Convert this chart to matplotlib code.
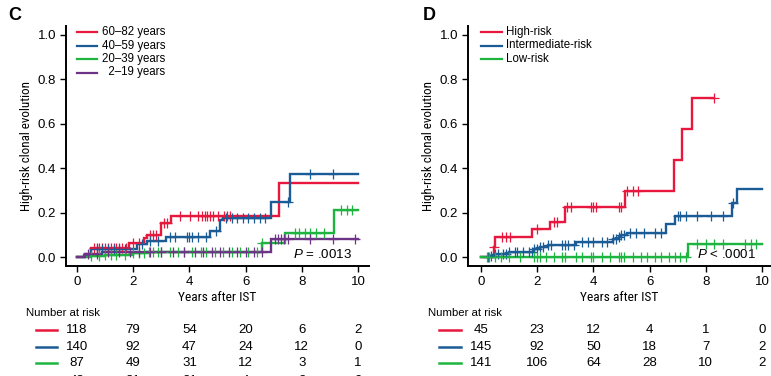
import numpy as np
import matplotlib
matplotlib.use("Agg")
import matplotlib.pyplot as plt
from matplotlib.lines import Line2D
import matplotlib.transforms as mtransforms
from matplotlib import font_manager

avail = {f.name for f in font_manager.fontManager.ttflist}
NARROW = 'Liberation Sans'
for cand in ['Roboto Condensed', 'Open Sans Condensed', 'PT Sans Narrow', 'Archivo Narrow',
             'Liberation Sans Narrow', 'Barlow Semi Condensed', 'Asap Condensed']:
    if cand in avail:
        NARROW = cand
        break
plt.rcParams['font.family'] = ['Liberation Sans', 'DejaVu Sans']
plt.rcParams['mathtext.fontset'] = 'custom'
plt.rcParams['mathtext.it'] = 'Liberation Sans:italic'
plt.rcParams['mathtext.rm'] = 'Liberation Sans'

# ---------------- data ----------------
C_RED = '#E8173D'
C_BLUE = '#1B5C96'
C_GREEN = '#1DB53F'
C_PURPLE = '#6E3386'

# Panel C (age groups)
c_labels = ['60\u201382 years', '40\u201359 years', '20\u201339 years', '\u20072\u201319 years']
c_colors = [C_RED, C_BLUE, C_GREEN, C_PURPLE]
c_red_t = [0.0, 0.3, 0.5, 1.86, 2.38, 2.5, 2.98, 3.35, 7.2, 10.0]
c_red_y = [0.0, 0.015, 0.042, 0.064, 0.086, 0.10, 0.155, 0.185, 0.335, 0.335]
c_red_cens = [0.6, 0.7, 0.8, 0.9, 1.0, 1.1, 1.2, 1.3, 1.4, 1.5, 1.6, 1.75, 2.0, 2.2, 2.6, 2.7,
              2.8, 3.1, 3.2, 3.66, 4.02, 4.3, 4.44, 4.55, 4.61, 4.72, 4.85, 5.03, 5.23, 5.33, 5.44]
c_blue_t = [0.0, 0.25, 0.5, 2.12, 2.48, 3.16, 4.73, 5.09, 5.2, 6.9, 7.58, 10.0]
c_blue_y = [0.0, 0.01, 0.035, 0.06, 0.073, 0.09, 0.118, 0.165, 0.177, 0.247, 0.372, 0.372]
c_blue_cens = [0.7, 0.9, 1.1, 1.3, 1.5, 1.7, 2.3, 2.6, 2.9, 3.3, 3.5, 3.9, 4.0, 4.1, 4.3, 4.6,
               4.95, 5.3, 5.5, 5.7, 5.9, 6.1, 6.3, 6.5, 6.7, 7.5, 8.3, 9.1]
c_green_t = [0.0, 0.5, 1.0, 2.0, 2.5, 6.57, 7.4, 9.15, 10.0]
c_green_y = [0.0, 0.005, 0.01, 0.02, 0.025, 0.062, 0.11, 0.21, 0.21]
c_green_cens = [0.5, 0.8, 1.0, 1.2, 1.4, 1.7, 2.0, 2.2, 2.4, 2.55, 2.7, 2.9, 3.0, 3.3, 3.6, 3.8,
                4.1, 4.4, 4.6, 4.9, 5.2, 5.5, 5.8, 6.1, 6.4, 6.6, 7.75, 7.9, 8.1, 8.3, 8.5, 8.8,
                9.4, 9.6, 9.8]
c_purple_t = [0.0, 0.3, 0.9, 6.9, 10.0]
c_purple_y = [0.0, 0.015, 0.025, 0.082, 0.082]
c_purple_cens = [0.4, 0.7, 1.1, 1.5, 1.9, 2.2, 2.6, 3.0, 3.4, 3.8, 4.2, 4.5, 4.8, 5.1, 5.4, 5.7,
                 6.0, 6.3, 6.6, 7.05, 7.15, 7.25, 7.35, 7.5, 8.3, 9.1, 9.9]
c_pvalue = '= .0013'
c_risk = [[118, 79, 54, 20, 6, 2],
          [140, 92, 47, 24, 12, 0],
          [87, 49, 31, 12, 3, 1],
          [43, 31, 21, 4, 2, 0]]

# Panel D (risk groups)
d_labels = ['High-risk', 'Intermediate-risk', 'Low-risk']
d_colors = [C_RED, C_BLUE, C_GREEN]
d_red_t = [0.0, 0.45, 0.5, 1.8, 2.46, 2.99, 5.12, 6.87, 7.14, 7.51, 8.3]
d_red_y = [0.0, 0.045, 0.092, 0.125, 0.157, 0.227, 0.297, 0.437, 0.575, 0.715, 0.715]
d_red_cens = [0.47, 0.75, 0.9, 1.05, 2.0, 2.6, 2.7, 3.05, 3.2, 3.9, 4.0, 4.1, 4.9, 5.0,
              5.2, 5.4, 5.6, 8.3]
d_blue_t = [0.0, 0.3, 0.5, 1.0, 1.9, 2.1, 2.4, 3.4, 4.7, 4.9, 5.0, 5.2, 6.6, 6.9, 8.95, 9.1, 10.0]
d_blue_y = [0.0, 0.005, 0.015, 0.025, 0.035, 0.045, 0.055, 0.07, 0.08, 0.09, 0.10, 0.11,
            0.149, 0.185, 0.245, 0.306, 0.306]
d_blue_cens = [0.25, 0.35, 0.5, 0.6, 0.8, 0.9, 1.0, 1.2, 1.3, 1.5, 1.7, 1.8, 1.9, 2.0, 2.1,
               2.2, 2.4, 2.5, 2.9, 3.0, 3.1, 3.3, 3.6, 3.8, 4.0, 4.3, 4.5, 4.7, 4.8, 4.9,
               5.0, 5.1, 5.3, 5.5, 5.8, 6.2, 6.4, 7.0, 7.1, 7.3, 7.7, 8.2, 8.6, 8.97]
d_green_t = [0.0, 7.35, 10.0]
d_green_y = [0.0, 0.059, 0.059]
d_green_cens = [0.2, 0.3, 0.5, 0.7, 1.0, 1.4, 1.9, 2.0, 2.1, 2.3, 2.6, 2.9, 3.0, 3.4, 3.6,
                3.9, 4.0, 4.3, 4.6, 4.9, 5.0, 5.1, 5.4, 5.7, 5.9, 6.2, 6.4, 6.7, 6.9, 7.1,
                7.3, 7.7, 8.0, 8.3, 8.6, 9.4, 9.6, 9.8]
d_pvalue = '< .0001'
d_risk = [[45, 23, 12, 4, 1, 0],
          [145, 92, 50, 18, 7, 2],
          [141, 106, 64, 28, 10, 2]]

risk_times = [0, 2, 4, 6, 8, 10]
yticks = [0.0, 0.2, 0.4, 0.6, 0.8, 1.0]
xticks = [0, 2, 4, 6, 8, 10]

# ---------------- figure ----------------
W, H = 771, 376
fig = plt.figure(figsize=(W / 100, H / 100), dpi=100)


def fx(px):
    return px / W


def fy(py):
    return 1 - py / H


def step_val(t, y, tc):
    idx = np.searchsorted(np.asarray(t), tc, side='right') - 1
    return np.asarray(y)[idx]


def panel(left_px, right_px, xlim, series, labels, colors, pval, risk, letter, letter_x,
          leg_line_x, leg_text_x, risk_title_x, risk_line_x):
    wpx = right_px - left_px
    hpx = 266 - 26
    ax = fig.add_axes([fx(left_px), fy(266), wpx / W, hpx / H])
    for (t, y, cens), col in zip(series, colors):
        ax.step(t, y, where='post', color=col, lw=1.7, solid_joinstyle='miter', zorder=3)
        cy = step_val(t, y, np.asarray(cens))
        ax.plot(cens, cy, ls='none', marker='+', ms=7, mew=0.9, color=col, zorder=4)
    ax.set_xlim(*xlim)
    ax.set_ylim(-0.04, 1.04)
    ax.set_xticks(xticks)
    ax.set_yticks(yticks)
    ax.set_yticklabels([f'{v:.1f}' for v in yticks])
    for s in ['top', 'right']:
        ax.spines[s].set_visible(False)
    for s in ['left', 'bottom']:
        ax.spines[s].set_linewidth(1.4)
    ax.tick_params(direction='out', length=4, width=1.0, labelsize=9.5, pad=3)
    ax.set_xlabel('Years after IST', family=NARROW, fontsize=9.6)
    ax.set_ylabel('High-risk clonal evolution', family=NARROW, fontsize=9.4)
    ax.xaxis.set_label_coords(0.5, -(291 - 266) / hpx)
    ax.xaxis.label.set_va('top')
    ax.yaxis.set_label_coords(-33 / wpx, 0.5)
    # p value
    ax.text(9.8, 0.012, r'$P$ ' + pval, fontsize=9.6, ha='right', va='center')
    # legend
    rows = [32, 45.5, 59, 72.5]
    for i, (lab, col) in enumerate(zip(labels, colors)):
        fig.add_artist(Line2D([fx(leg_line_x[0]), fx(leg_line_x[1])], [fy(rows[i])] * 2,
                              color=col, lw=1.6))
        fig.text(fx(leg_text_x), fy(rows[i]), lab, fontsize=8.3, ha='left', va='center')
    # panel letter
    fig.text(fx(letter_x), fy(15), letter, fontsize=13, fontweight='bold', ha='left',
             va='center')
    # number at risk
    fig.text(fx(risk_title_x), fy(313), 'Number at risk', fontsize=8.2, ha='left',
             va='center')
    trans = mtransforms.blended_transform_factory(ax.transData, fig.transFigure)
    rrows = [330, 346.5, 363, 381.5]
    for i, (vals, col) in enumerate(zip(risk, colors)):
        fig.add_artist(Line2D([fx(risk_line_x[0]), fx(risk_line_x[1])], [fy(rrows[i])] * 2,
                              color=col, lw=1.8))
        for tt, v in zip(risk_times, vals):
            fig.text(tt, fy(rrows[i]), str(v), transform=trans, fontsize=9.5,
                     ha='center', va='center')
    return ax


# Panel C
panel(66, 369, (-0.39, 10.39),
      [(c_red_t, c_red_y, c_red_cens), (c_blue_t, c_blue_y, c_blue_cens),
       (c_green_t, c_green_y, c_green_cens), (c_purple_t, c_purple_y, c_purple_cens)],
      c_labels, c_colors, c_pvalue, c_risk, 'C', 8,
      (77, 97), 102, 26, (36, 57))

# Panel D
panel(468, 771, (-0.46, 10.32),
      [(d_red_t, d_red_y, d_red_cens), (d_blue_t, d_blue_y, d_blue_cens),
       (d_green_t, d_green_y, d_green_cens)],
      d_labels, d_colors, d_pvalue, d_risk, 'D', 423,
      (481, 502), 506, 428, (439, 461))

fig.savefig('out.png', dpi=100)
